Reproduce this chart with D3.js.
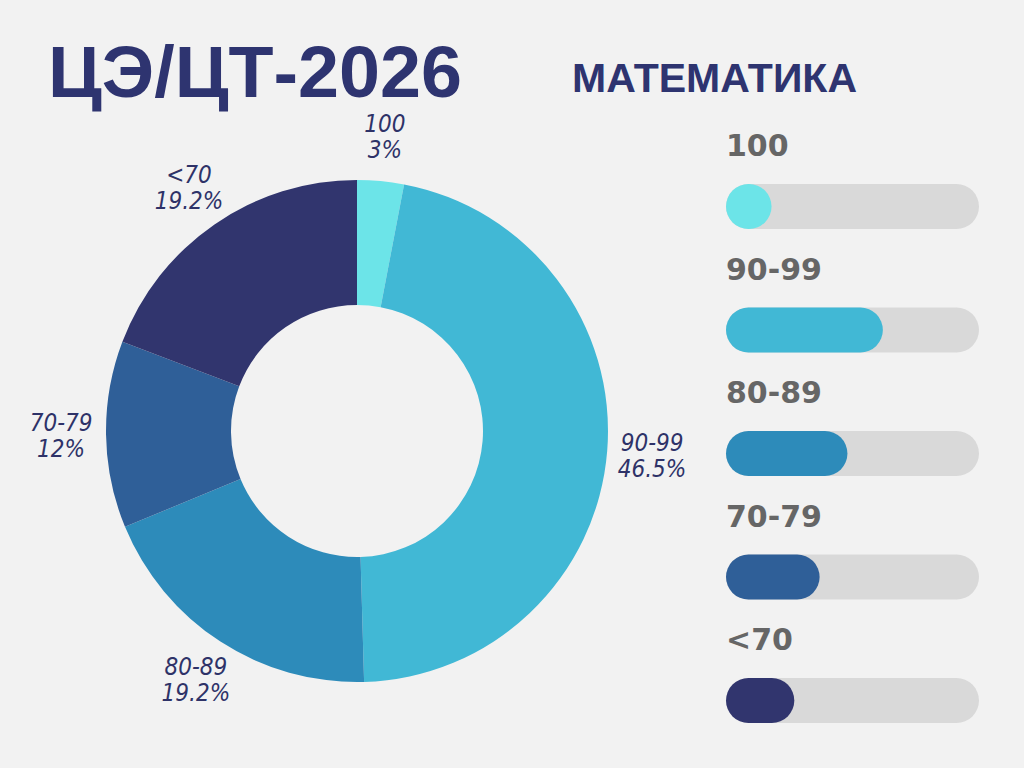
<!DOCTYPE html>
<html>
<head>
<meta charset="utf-8">
<script src="https://cdn.jsdelivr.net/npm/d3@7"></script>
<style>
  body { margin: 0; background: #f2f2f2; }
  svg { display: block; }
</style>
</head>
<body>
<div id="chart"></div>
<script>
// data
var categories = ["100", "90-99", "80-89", "70-79", "<70"];
var shares = [3, 46.5, 19.2, 12, 19.2];          // donut, %
var shareLabels = ["3%", "46.5%", "19.2%", "12%", "19.2%"];
var barFill = [18, 62, 48, 37, 27];              // filled part of each track, %
var colors = ["#6ce4e8", "#41b8d5", "#2d8bba", "#2f5f98", "#31356e"];

var width = 1024, height = 768;

var svg = d3.select("#chart").append("svg")
    .attr("width", width)
    .attr("height", height);

svg.append("rect")
    .attr("width", width)
    .attr("height", height)
    .attr("fill", "#f2f2f2");

// titles
svg.append("text")
    .attr("x", 48)
    .attr("y", 97)
    .attr("font-family", "Liberation Sans, Arial, sans-serif")
    .attr("font-weight", 700)
    .attr("font-size", 72)
    .attr("fill", "#2e3470")
    .attr("textLength", 414)
    .attr("lengthAdjust", "spacingAndGlyphs")
    .text("ЦЭ/ЦТ-2026");

svg.append("text")
    .attr("x", 572)
    .attr("y", 92)
    .attr("font-family", "Liberation Sans, Arial, sans-serif")
    .attr("font-weight", 700)
    .attr("font-size", 41)
    .attr("fill", "#2e3470")
    .attr("textLength", 285)
    .attr("lengthAdjust", "spacingAndGlyphs")
    .text("МАТЕМАТИКА");

// donut
var cx = 357, cy = 431, outerR = 251, innerR = 126, labelR = 296;

var pie = d3.pie().sort(null).value(function(d) { return d; });
var arcs = pie(shares);

var arc = d3.arc().innerRadius(innerR).outerRadius(outerR);
var labelArc = d3.arc().innerRadius(labelR).outerRadius(labelR);

var donut = svg.append("g")
    .attr("transform", "translate(" + cx + "," + cy + ")");

donut.selectAll("path")
    .data(arcs)
  .enter().append("path")
    .attr("d", arc)
    .attr("fill", function(d, i) { return colors[i]; });

var labels = donut.selectAll("text")
    .data(arcs)
  .enter().append("text")
    .attr("transform", function(d) { return "translate(" + labelArc.centroid(d) + ")"; })
    .attr("text-anchor", "middle")
    .attr("font-family", "Liberation Sans Narrow, DejaVu Sans Condensed, Liberation Sans, sans-serif")
    .attr("font-style", "italic")
    .attr("font-size", 24)
    .attr("fill", "#2e3268");

labels.append("tspan")
    .attr("x", 0)
    .attr("y", -4)
    .text(function(d, i) { return categories[i]; });

labels.append("tspan")
    .attr("x", 0)
    .attr("y", 22)
    .text(function(d, i) { return shareLabels[i]; });

// progress bars
var trackW = 253, barH = 45;
var x = d3.scaleLinear().domain([0, 100]).range([0, trackW]);
var y = d3.scalePoint().domain(categories).range([184, 678]);

var bars = svg.append("g")
    .attr("transform", "translate(726,0)");

var rows = bars.selectAll("g")
    .data(categories)
  .enter().append("g")
    .attr("transform", function(d) { return "translate(0," + y(d) + ")"; });

rows.append("text")
    .attr("x", 0)
    .attr("y", -28)
    .attr("font-family", "DejaVu Sans, sans-serif")
    .attr("font-weight", 700)
    .attr("font-size", 30)
    .attr("fill", "#666666")
    .text(function(d) { return d; });

rows.append("rect")
    .attr("width", trackW)
    .attr("height", barH)
    .attr("rx", barH / 2)
    .attr("fill", "#d9d9d9");

rows.append("rect")
    .attr("width", function(d, i) { return Math.max(x(barFill[i]), barH); })
    .attr("height", barH)
    .attr("rx", barH / 2)
    .attr("fill", function(d, i) { return colors[i]; });
</script>
</body>
</html>
